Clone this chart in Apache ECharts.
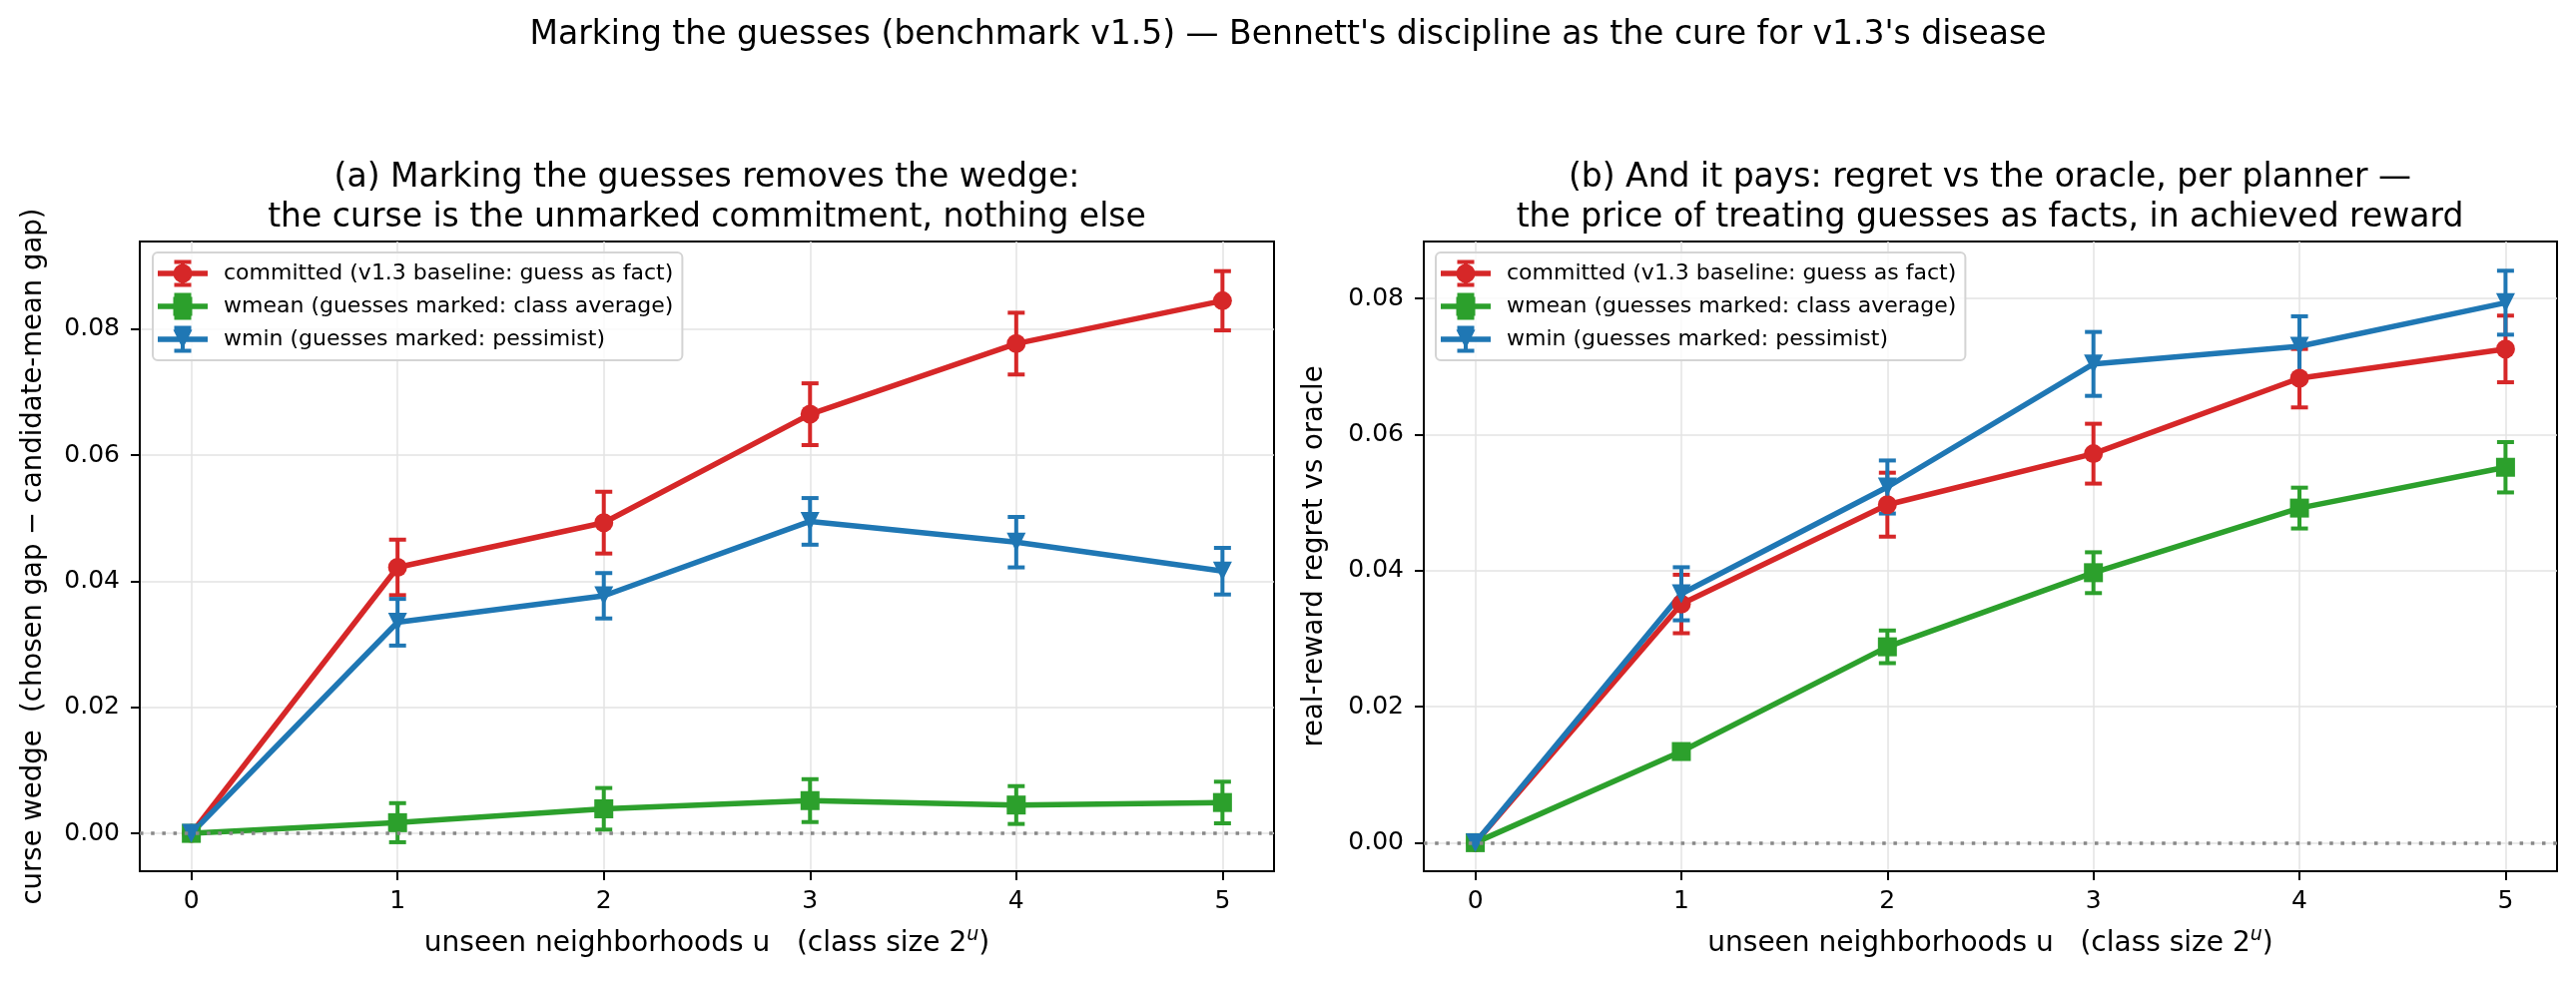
<!DOCTYPE html>
<html>
<head>
<meta charset="utf-8">
<script src="https://cdn.jsdelivr.net/npm/echarts@6/dist/echarts.min.js"></script>
<style>
  html, body { margin: 0; padding: 0; background: #fff; }
  #main { width: 2580px; height: 984px; }
</style>
</head>
<body>
<div id="main"></div>
<script>
const xs = [0, 1, 2, 3, 4, 5];
const xTicks = [0, 1, 2, 3, 4, 5];
const yTicks = [0, 0.02, 0.04, 0.06, 0.08];
const names = [
  "committed (v1.3 baseline: guess as fact)",
  "wmean (guesses marked: class average)",
  "wmin (guesses marked: pessimist)"
];
const colors = ["#d62728", "#2ca02c", "#1f77b4"];

// panel (a): curse wedge
const aCommitted = [0, 0.0422, 0.0493, 0.0665, 0.0777, 0.0845];
const aCommittedErr = [0, 0.0044, 0.0049, 0.0049, 0.0049, 0.0047];
const aWmean = [0, 0.0017, 0.0039, 0.0052, 0.0045, 0.0049];
const aWmeanErr = [0, 0.0031, 0.0033, 0.0034, 0.0030, 0.0033];
const aWmin = [0, 0.0335, 0.0377, 0.0495, 0.0462, 0.0416];
const aWminErr = [0, 0.0037, 0.0036, 0.0037, 0.0040, 0.0037];

// panel (b): regret vs oracle
const bCommitted = [0, 0.0351, 0.0497, 0.0572, 0.0683, 0.0726];
const bCommittedErr = [0, 0.0043, 0.0047, 0.0044, 0.0043, 0.0049];
const bWmean = [0, 0.0134, 0.0288, 0.0397, 0.0492, 0.0552];
const bWmeanErr = [0, 0.0008, 0.0024, 0.0030, 0.0030, 0.0037];
const bWmin = [0, 0.0366, 0.0523, 0.0704, 0.0730, 0.0794];
const bWminErr = [0, 0.0039, 0.0039, 0.0047, 0.0044, 0.0047];

const FONT = "DejaVu Sans";
const symbols = ["circle", "rect", "triangle"];
const symbolRot = [0, 0, 180];

// legend handles: line + errorbar + marker, in a 50x27 box
const barPath = "M0 10.75 H50 V16.25 H0 Z M23 0 H27 V27 H23 Z M16.5 0 H33.5 V4 H16.5 Z M16.5 23 H33.5 V27 H16.5 Z ";
const legendIcons = [
  "path://" + barPath + "M15.5 13.5 A9.5 9.5 0 1 1 34.5 13.5 A9.5 9.5 0 1 1 15.5 13.5 Z",
  "path://" + barPath + "M15.5 4 H34.5 V23 H15.5 Z",
  "path://" + barPath + "M15.5 4 H34.5 L25 23 Z"
];

function errRender(params, api) {
  var x = api.value(0);
  var top = api.coord([x, api.value(2)]);
  var bot = api.coord([x, api.value(1)]);
  var c = api.visual("color");
  var hw = 8.5;
  var st = { stroke: c, lineWidth: 4 };
  return {
    type: "group",
    children: [
      { type: "line", shape: { x1: top[0], y1: top[1], x2: bot[0], y2: bot[1] }, style: st },
      { type: "line", shape: { x1: top[0] - hw, y1: top[1], x2: top[0] + hw, y2: top[1] }, style: st },
      { type: "line", shape: { x1: bot[0] - hw, y1: bot[1], x2: bot[0] + hw, y2: bot[1] }, style: st }
    ]
  };
}

function seriesFor(idx, vals, errs, k) {
  var line = {
    type: "line",
    name: names[k],
    xAxisIndex: idx,
    yAxisIndex: idx,
    data: xs.map((x, i) => [x, vals[i]]),
    symbol: symbols[k],
    symbolSize: 19,
    symbolRotate: symbolRot[k],
    showAllSymbol: true,
    lineStyle: { width: 5.5, color: colors[k] },
    itemStyle: { color: colors[k] },
    emphasis: { disabled: true }
  };
  if (k === 0) {
    line.markLine = {
      silent: true,
      symbol: "none",
      label: { show: false },
      lineStyle: { color: "#888", type: [3.5, 7.7], width: 3.5 },
      data: [{ yAxis: 0 }]
    };
  }
  var err = {
    type: "custom",
    name: names[k] + " err",
    xAxisIndex: idx,
    yAxisIndex: idx,
    itemStyle: { color: colors[k] },
    data: xs.map((x, i) => [x, vals[i] - errs[i], vals[i] + errs[i]]),
    renderItem: errRender,
    encode: { x: 0, y: [1, 2] }
  };
  return [err, line];
}

function xAxisFor(idx) {
  return {
    type: "value",
    gridIndex: idx,
    min: -0.25,
    max: 5.25,
    name: "unseen neighborhoods u   (class size 2{sup|u})",
    nameLocation: "middle",
    nameGap: 55,
    nameTextStyle: {
      fontFamily: FONT, fontSize: 28, color: "#000", lineHeight: 36,
      rich: { sup: { fontFamily: FONT, fontSize: 19, fontStyle: "italic", verticalAlign: "top", lineHeight: 19, color: "#000" } }
    },
    axisLine: { show: true, onZero: false, lineStyle: { color: "#000", width: 2 } },
    axisTick: { show: true, inside: false, length: 9, lineStyle: { color: "#000", width: 2 }, customValues: xTicks },
    axisLabel: { fontFamily: FONT, fontSize: 25, color: "#000", margin: 18, customValues: xTicks },
    splitLine: { show: true, lineStyle: { color: "#e3e3e3", width: 1.5 } }
  };
}

function yAxisFor(idx, mn, mx, label, gap) {
  return {
    type: "value",
    gridIndex: idx,
    min: mn,
    max: mx,
    name: label,
    nameLocation: "middle",
    nameGap: gap,
    nameTextStyle: { fontFamily: FONT, fontSize: 27.5, color: "#000" },
    axisLine: { show: true, onZero: false, lineStyle: { color: "#000", width: 2 } },
    axisTick: { show: true, inside: false, length: 9, lineStyle: { color: "#000", width: 2 }, customValues: yTicks },
    axisLabel: { fontFamily: FONT, fontSize: 25, color: "#000", margin: 20, customValues: yTicks,
      formatter: v => v.toFixed(2) },
    splitLine: { show: true, lineStyle: { color: "#e3e3e3", width: 1.5 } }
  };
}

function legendFor(left) {
  return {
    left: left,
    top: 253,
    orient: "vertical",
    data: names.map((n, k) => ({ name: n, icon: legendIcons[k] })),
    itemWidth: 50,
    itemHeight: 27,
    itemGap: 6,
    padding: [7.5, 9, 7.5, 5],
    backgroundColor: "rgba(255,255,255,0.8)",
    borderColor: "#d4d4d4",
    borderWidth: 2,
    borderRadius: 5,
    selectedMode: false,
    textStyle: { fontFamily: FONT, fontSize: 22, lineHeight: 22, color: "#000", padding: [0, 0, 0, 11] }
  };
}

const titleStyle = { fontFamily: FONT, fontSize: 33, fontWeight: "normal", color: "#000", lineHeight: 40 };

const option = {
  animation: false,
  backgroundColor: "#fff",
  title: [
    { text: "Marking the guesses (benchmark v1.5) \u2014 Bennett's discipline as the cure for v1.3's disease",
      left: 1290, top: 15, textAlign: "center", padding: 0, textStyle: titleStyle },
    { text: "(a) Marking the guesses removes the wedge:\nthe curse is the unmarked commitment, nothing else",
      left: 708, top: 158, textAlign: "center", padding: 0, textStyle: titleStyle },
    { text: "(b) And it pays: regret vs the oracle, per planner \u2014\nthe price of treating guesses as facts, in achieved reward",
      left: 1993, top: 158, textAlign: "center", padding: 0, textStyle: titleStyle }
  ],
  legend: [legendFor(153), legendFor(1438)],
  grid: [
    { left: 140, right: 1304, top: 242, bottom: 111, show: true, borderColor: "#000", borderWidth: 2, containLabel: false },
    { left: 1426, right: 19, top: 242, bottom: 111, show: true, borderColor: "#000", borderWidth: 2, containLabel: false }
  ],
  xAxis: [xAxisFor(0), xAxisFor(1)],
  yAxis: [
    yAxisFor(0, -0.006, 0.0939, "curse wedge  (chosen gap \u2212 candidate-mean gap)", 92),
    yAxisFor(1, -0.0042, 0.0884, "real-reward regret vs oracle", 95)
  ],
  series: [].concat(
    seriesFor(0, aCommitted, aCommittedErr, 0),
    seriesFor(0, aWmean, aWmeanErr, 1),
    seriesFor(0, aWmin, aWminErr, 2),
    seriesFor(1, bCommitted, bCommittedErr, 0),
    seriesFor(1, bWmean, bWmeanErr, 1),
    seriesFor(1, bWmin, bWminErr, 2)
  )
};

const chart = echarts.init(document.getElementById("main"), null, { renderer: "canvas" });
chart.setOption(option);
window.onresize = function() { chart.resize(); };
</script>
</body>
</html>
